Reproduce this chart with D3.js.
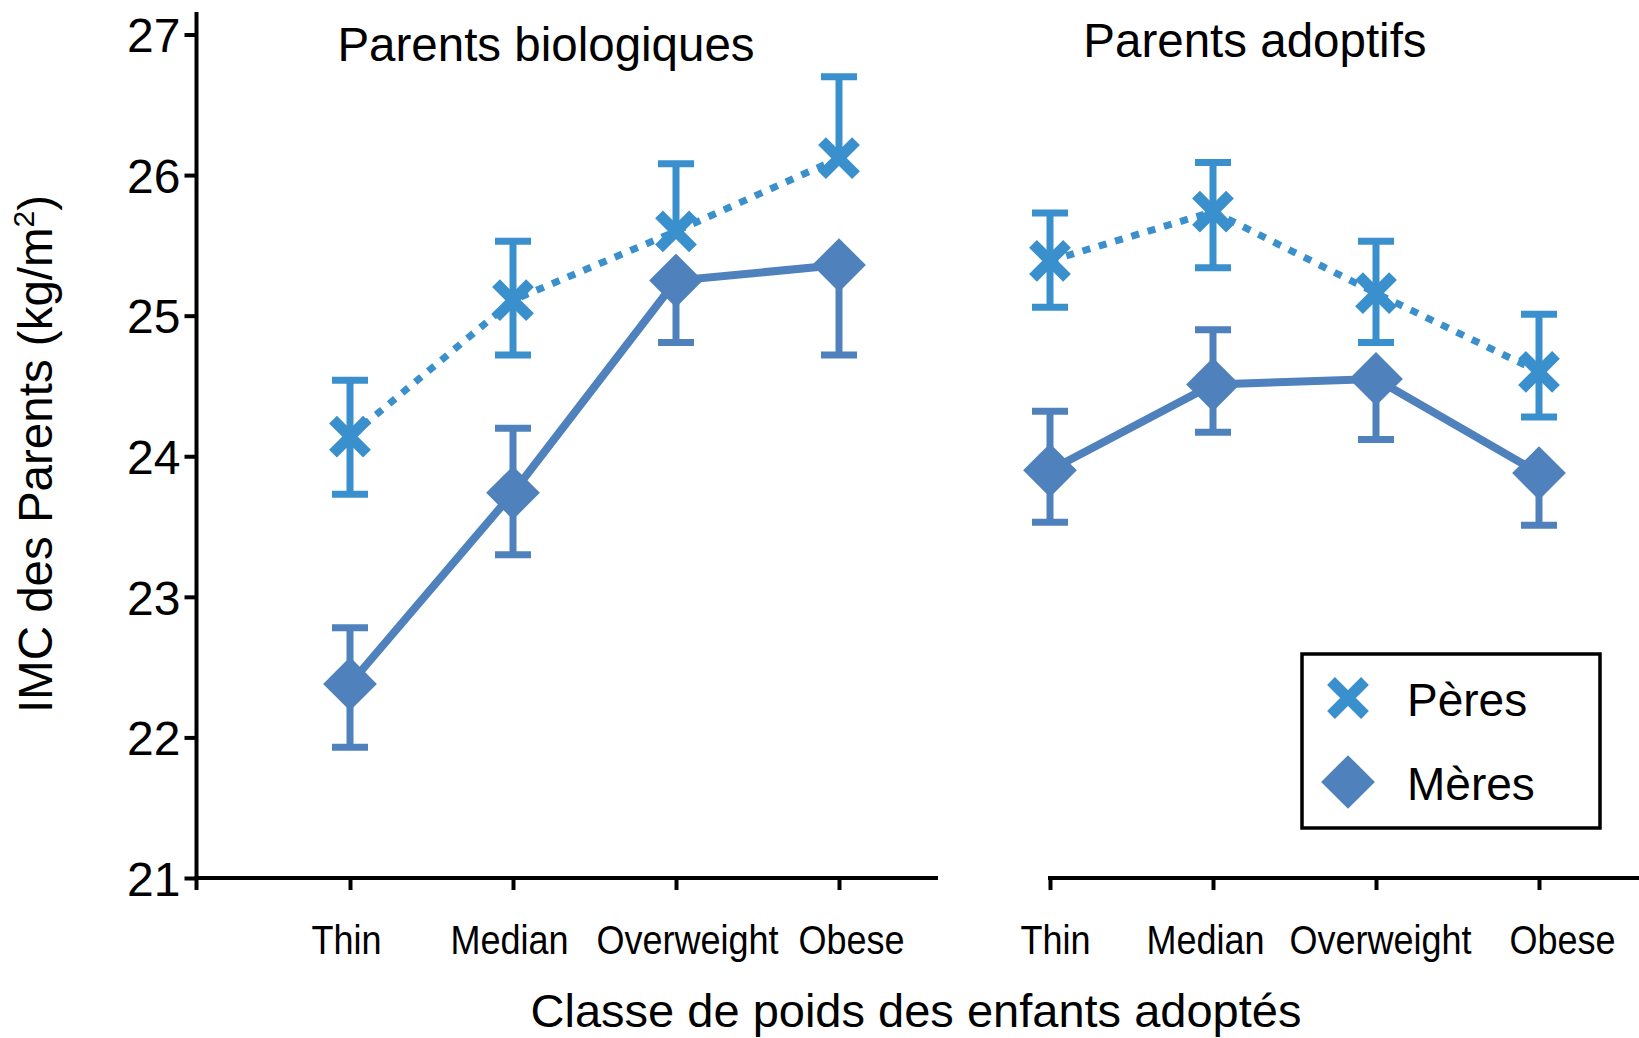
<!DOCTYPE html>
<html>
<head>
<meta charset="utf-8">
<script src="https://cdn.jsdelivr.net/npm/d3@7/dist/d3.min.js"></script>
<style>
  html, body { margin: 0; padding: 0; background: #fff; }
  svg { display: block; font-family: "Liberation Sans", Arial, sans-serif; }
</style>
</head>
<body>
<svg id="chart" width="1639" height="1038"></svg>
<script>
// ---- data ----
const categories = ["Thin", "Median", "Overweight", "Obese"];
const yTicks = [21, 22, 23, 24, 25, 26, 27];
const panelTitles = ["Parents biologiques", "Parents adoptifs"];
const seriesNames = ["Pères", "Mères"];

// Biological parents
const bioPeres      = [24.14, 25.11, 25.60, 26.12];
const bioPeresUp    = [24.54, 25.53, 26.08, 26.70];
const bioPeresLo    = [23.73, 24.72, null, null];
const bioMeres      = [22.38, 23.74, 25.25, 25.36];
const bioMeresUp    = [22.78, 24.20, null, null];
const bioMeresLo    = [21.93, 23.30, 24.81, 24.72];

// Adoptive parents
const adoPeres      = [25.39, 25.74, 25.16, 24.60];
const adoPeresUp    = [25.73, 26.09, 25.53, 25.01];
const adoPeresLo    = [25.06, 25.34, 24.81, 24.28];
const adoMeres      = [23.90, 24.51, 24.55, 23.88];
const adoMeresUp    = [24.32, 24.90, null, null];
const adoMeresLo    = [23.53, 24.17, 24.12, 23.51];

// ---- styles ----
const colPeres = "#3a8fcd";
const colMeres = "#4f81bd";
// horizontal nudges of the category labels (px), per panel
const labelShiftL = [-4, -4, 11, 12];
const labelShiftR = [5, -8, 4, 23];

const svg = d3.select("#chart");

const y = d3.scaleLinear().domain([21, 27]).range([878, 34.5]);
const xL = d3.scalePoint().domain(categories).range([350, 839]);
const xR = d3.scalePoint().domain(categories).range([1050, 1539]);

// ---- Y axis ----
const yAxis = d3.axisLeft(y).tickValues(yTicks).tickSize(12).tickPadding(4).tickFormat(d3.format("d"));
const gy = svg.append("g").attr("transform", "translate(196.5,0)").call(yAxis);
gy.select(".domain").remove();
gy.selectAll(".tick line").attr("stroke", "#000").attr("stroke-width", 4);
gy.selectAll(".tick text").attr("font-size", 48).attr("fill", "#000")
  .attr("font-family", "Liberation Sans, Arial, sans-serif").attr("dy", "0.36em");
gy.append("line").attr("x1", 0).attr("x2", 0).attr("y1", 12).attr("y2", 890)
  .attr("stroke", "#000").attr("stroke-width", 4);

// ---- X axes ----
function xAxisPanel(xs, x0, x1, shifts) {
  const ax = d3.axisBottom(xs).tickSize(12).tickPadding(36).tickSizeOuter(0);
  const g = svg.append("g").attr("transform", "translate(0,878)").call(ax);
  g.select(".domain").remove();
  g.selectAll(".tick line").attr("stroke", "#000").attr("stroke-width", 4);
  g.selectAll(".tick text").attr("font-size", 40).attr("fill", "#000")
    .attr("font-family", "Liberation Sans, Arial, sans-serif")
    .attr("transform", (d, i) => `translate(${shifts[i]},0) scale(0.9,1)`);
  g.append("line").attr("x1", x0).attr("x2", x1).attr("y1", 0).attr("y2", 0)
    .attr("stroke", "#000").attr("stroke-width", 4);
}
xAxisPanel(xL, 194.5, 938, labelShiftL);
xAxisPanel(xR, 1048, 1639, labelShiftR);

// ---- axis titles ----
svg.append("text").attr("x", 916).attr("y", 1027).attr("text-anchor", "middle")
  .attr("font-size", 47).attr("fill", "#000").text("Classe de poids des enfants adoptés");

const yt = svg.append("text").attr("transform", "translate(52,454) rotate(-90)")
  .attr("text-anchor", "middle").attr("font-size", 47.5).attr("fill", "#000");
yt.append("tspan").text("IMC des Parents (kg/m");
yt.append("tspan").attr("font-size", 30).attr("dy", -18).text("2");
yt.append("tspan").attr("dy", 18).text(")");

// ---- panel titles ----
svg.append("text").attr("x", 546).attr("y", 61).attr("text-anchor", "middle")
  .attr("font-size", 47.5).attr("fill", "#000").text(panelTitles[0]);
svg.append("text").attr("x", 1255).attr("y", 57).attr("text-anchor", "middle")
  .attr("font-size", 47.5).attr("fill", "#000").text(panelTitles[1]);

// ---- marks ----
const xPath = "M-17,-17L17,17M-17,17L17,-17";
const diamond = d3.symbol().type(d3.symbolSquare).size(1444);

function drawSeries(xs, vals, up, lo, color, dashed, marker) {
  const pts = categories.map((c, i) => ({ c, v: vals[i], u: up[i], l: lo[i] }));
  const line = d3.line().x(d => xs(d.c)).y(d => y(d.v));
  svg.append("path").datum(pts).attr("d", line).attr("fill", "none")
    .attr("stroke", color).attr("stroke-width", dashed ? 7 : 8)
    .attr("stroke-dasharray", dashed ? "8,9" : null);

  const eb = svg.append("g").attr("stroke", color).attr("stroke-width", 7).attr("fill", "none");
  pts.forEach(d => {
    const cx = xs(d.c);
    [d.u, d.l].forEach(e => {
      if (e == null) return;
      eb.append("line").attr("x1", cx).attr("x2", cx).attr("y1", y(d.v)).attr("y2", y(e));
      eb.append("line").attr("x1", cx - 18).attr("x2", cx + 18).attr("y1", y(e)).attr("y2", y(e));
    });
  });

  const mk = svg.append("g");
  pts.forEach(d => {
    const cx = xs(d.c), cy = y(d.v);
    if (marker === "x") {
      mk.append("path").attr("d", xPath).attr("transform", `translate(${cx},${cy})`)
        .attr("stroke", color).attr("stroke-width", 11).attr("fill", "none");
    } else {
      mk.append("path").attr("d", diamond()).attr("transform", `translate(${cx},${cy}) rotate(45)`)
        .attr("fill", color);
    }
  });
}

drawSeries(xL, bioPeres, bioPeresUp, bioPeresLo, colPeres, true, "x");
drawSeries(xL, bioMeres, bioMeresUp, bioMeresLo, colMeres, false, "d");
drawSeries(xR, adoPeres, adoPeresUp, adoPeresLo, colPeres, true, "x");
drawSeries(xR, adoMeres, adoMeresUp, adoMeresLo, colMeres, false, "d");

// ---- legend ----
const lg = svg.append("g");
lg.append("rect").attr("x", 1302).attr("y", 654).attr("width", 298).attr("height", 174)
  .attr("fill", "#fff").attr("stroke", "#000").attr("stroke-width", 3.5);
lg.append("path").attr("d", xPath).attr("transform", "translate(1348,698)")
  .attr("stroke", colPeres).attr("stroke-width", 11).attr("fill", "none");
lg.append("path").attr("d", diamond()).attr("transform", "translate(1348,782) rotate(45)")
  .attr("fill", colMeres);
lg.append("text").attr("x", 1407).attr("y", 716).attr("font-size", 46).attr("fill", "#000").text(seriesNames[0]);
lg.append("text").attr("x", 1407).attr("y", 800).attr("font-size", 46).attr("fill", "#000").text(seriesNames[1]);
</script>
</body>
</html>
